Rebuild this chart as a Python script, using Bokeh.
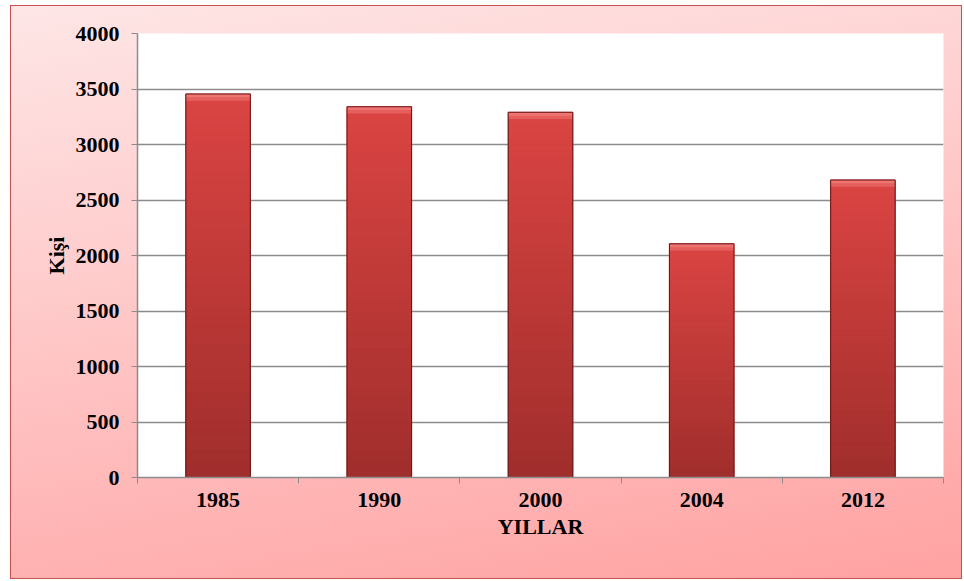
from bokeh.plotting import figure
from bokeh.models import Range1d, FixedTicker, ColumnDataSource
from bokeh.embed import file_html
from bokeh.resources import INLINE

years = ["1985", "1990", "2000", "2004", "2012"]
values = [3455, 3340, 3290, 2105, 2680]
y_ticks = [0, 500, 1000, 1500, 2000, 2500, 3000, 3500, 4000]

FONT = "Liberation Serif"

p = figure(width=952, height=574, output_backend="svg", toolbar_location=None,
           x_range=Range1d(0, len(years)), y_range=Range1d(0, 4000),
           min_border_left=126, min_border_right=20, min_border_top=27, min_border_bottom=103)
p.border_fill_color = None
p.background_fill_color = "white"
p.outline_line_color = None
p.styles = {"background": "linear-gradient(170deg, #fee6e6 0%, #ffc4c4 50%, #ffa2a2 100%)",
            "border": "1px solid #c9504e", "box-sizing": "border-box",
            "margin-left": "10px", "margin-top": "5px"}

xs = [i + 0.5 for i in range(len(years))]

# gradient bars built from slices of each value
N = 40
top_c = (0xDB, 0x45, 0x43)
bot_c = (0xA0, 0x2E, 0x2C)
sx, sb, st, sc = [], [], [], []
for x, v in zip(xs, values):
    for k in range(N):
        f = (k + 0.5) / N
        r = int(bot_c[0] + (top_c[0] - bot_c[0]) * f)
        g = int(bot_c[1] + (top_c[1] - bot_c[1]) * f)
        b = int(bot_c[2] + (top_c[2] - bot_c[2]) * f)
        sx.append(x); sb.append(v * k / N); st.append(v * (k + 1) / N)
        sc.append("#%02x%02x%02x" % (r, g, b))
p.vbar(x=sx, bottom=sb, top=st, width=0.4, fill_color=sc, line_color=sc, line_width=1.2)
# light bevel at the top of each bar
p.vbar(x=xs, bottom=[v - 60 for v in values], top=values, width=0.4,
       fill_color="#e5605d", line_color=None)
p.vbar(x=xs, bottom=[v - 30 for v in values], top=values, width=0.4,
       fill_color="#ef7471", line_color=None)
src = ColumnDataSource(dict(x=xs, top=values))
p.vbar(x="x", top="top", width=0.4, source=src, fill_color=None, line_color="#6a1818", line_width=1)

# axes
p.xaxis.ticker = FixedTicker(ticks=xs, minor_ticks=list(range(len(years) + 1)))
p.xaxis.major_label_overrides = {x: y for x, y in zip(xs, years)}
p.xaxis.major_tick_line_color = None
p.xaxis.minor_tick_line_color = "#8c8c8c"
p.xaxis.minor_tick_out = 6
p.xaxis.minor_tick_in = 0
p.xaxis.axis_label = "YILLAR"
p.yaxis.ticker = FixedTicker(ticks=y_ticks)
p.yaxis.axis_label = "Kişi"
p.yaxis.minor_tick_line_color = None
p.yaxis.major_tick_out = 6
p.yaxis.major_tick_in = 0
p.yaxis.major_tick_line_color = "#8c8c8c"

for ax in (p.xaxis[0], p.yaxis[0]):
    ax.axis_line_color = "#8c8c8c"
    ax.axis_line_width = 1.5
    ax.major_label_text_font = FONT
    ax.major_label_text_font_style = "bold"
    ax.major_label_text_font_size = "22px"
    ax.major_label_text_color = "black"
    ax.axis_label_text_font = FONT
    ax.axis_label_text_font_style = "bold"
    ax.axis_label_text_font_size = "22px"
    ax.axis_label_text_color = "black"

p.xaxis.major_label_standoff = 9
p.xaxis.axis_label_standoff = 4
p.yaxis.major_label_standoff = 12
p.yaxis.axis_label_standoff = 4

p.xgrid.grid_line_color = None
p.ygrid.ticker = FixedTicker(ticks=y_ticks)
p.ygrid.grid_line_color = "#8c8c8c"
p.ygrid.grid_line_width = 1.5

open("out.html", "w").write(file_html(p, INLINE))
